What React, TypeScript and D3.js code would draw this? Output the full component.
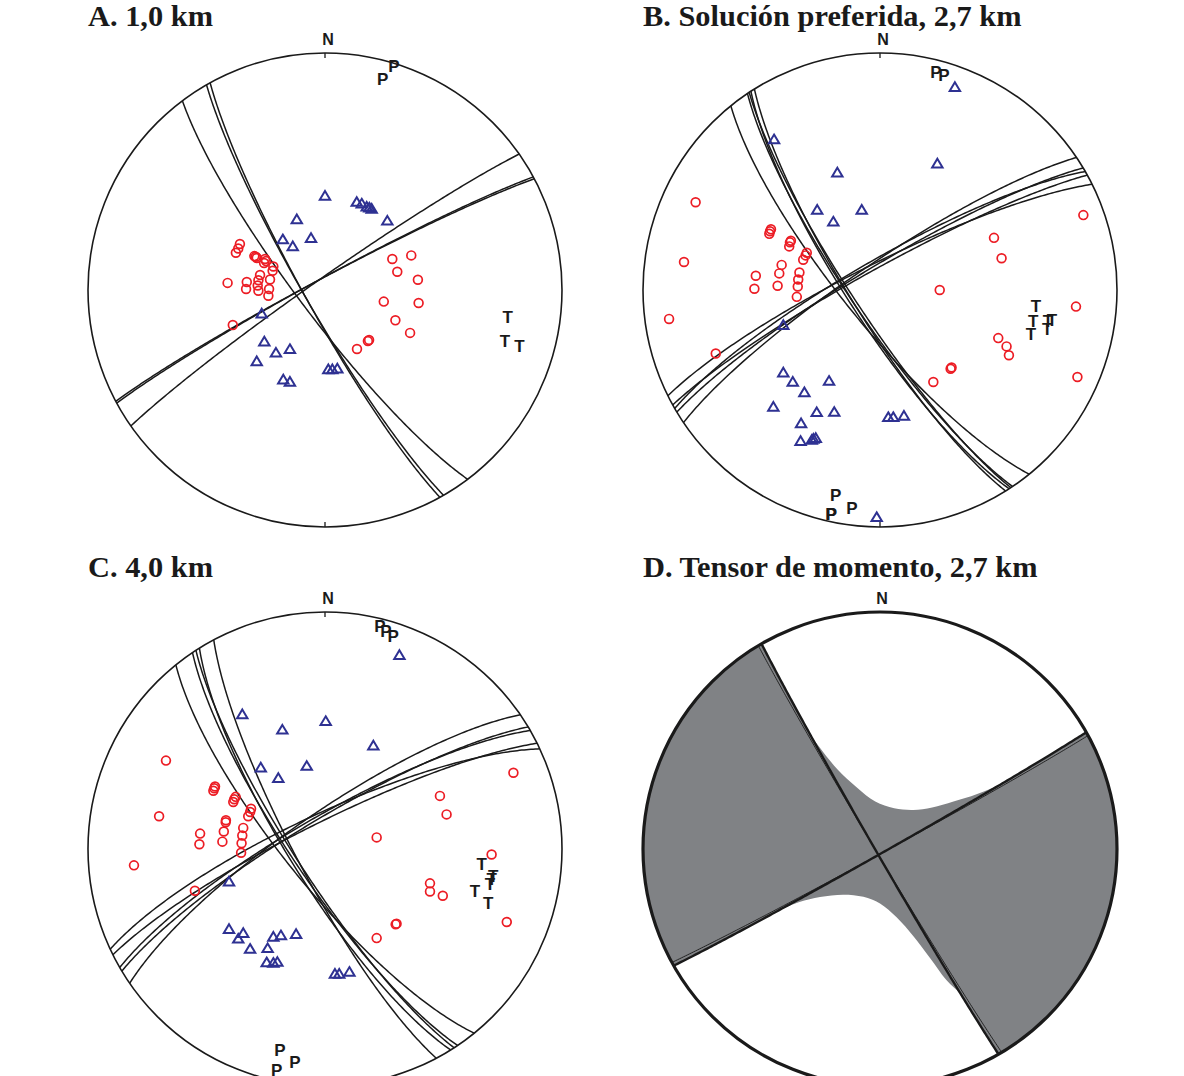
import React from "react";
import * as d3 from "d3";

// ---------- DATA (normalized stereonet coords: u = east, v = north, unit circle) ----------
const aCompressions: [number, number][] = [
  [-0.359, 0.194], [-0.366, 0.175], [-0.376, 0.157], [-0.298, 0.143], [-0.292, 0.14], [-0.288, 0.135],
  [-0.253, 0.131], [-0.249, 0.122], [-0.257, 0.114], [-0.218, 0.099], [-0.221, 0.081], [-0.274, 0.063],
  [-0.411, 0.03], [-0.33, 0.034], [-0.333, 0.004], [-0.281, 0.041], [-0.284, 0.019], [-0.281, -0.003],
  [-0.232, 0.044], [-0.236, 0.004], [-0.239, -0.024], [-0.389, -0.148],
  [0.284, 0.131], [0.364, 0.146], [0.305, 0.077], [0.392, 0.043], [0.248, -0.049], [0.395, -0.055],
  [0.297, -0.128], [0.359, -0.181], [0.186, -0.211], [0.181, -0.215], [0.135, -0.249],
];
const aDilatations: [number, number][] = [
  [0.0, 0.397], [0.134, 0.371], [0.155, 0.364], [0.176, 0.351], [0.187, 0.347], [0.197, 0.342],
  [0.263, 0.292], [-0.119, 0.298], [-0.178, 0.213], [-0.136, 0.184], [-0.059, 0.219],
  [-0.267, -0.1], [-0.256, -0.218], [-0.207, -0.265], [-0.148, -0.25], [-0.288, -0.301],
  [-0.176, -0.378], [-0.148, -0.388], [0.014, -0.335], [0.031, -0.335], [0.052, -0.332],
];
const aTAxes: [number, number][] = [[0.771, -0.112], [0.759, -0.214], [0.82, -0.235]];
const aPAxes: [number, number][] = [[0.243, 0.892], [0.291, 0.946]];
// nodal planes: [strike, dip] (right-hand rule, lower hemisphere)
const aPlanes: [number, number][] = [
  [143, 81], [150, 83], [151, 83],
  [242, 86], [241.5, 86], [235, 86],
];

const bCompressions: [number, number][] = [
  [-0.778, 0.37], [-0.827, 0.118], [-0.89, -0.122], [-0.693, -0.268],
  [-0.467, 0.237], [-0.464, 0.248], [-0.46, 0.256], [-0.383, 0.184], [-0.38, 0.201], [-0.376, 0.208],
  [-0.324, 0.128], [-0.314, 0.146], [-0.309, 0.157], [-0.415, 0.106], [-0.425, 0.07], [-0.524, 0.06],
  [-0.53, 0.005], [-0.432, 0.018], [-0.34, 0.074], [-0.345, 0.044], [-0.347, 0.015], [-0.351, -0.029],
  [0.858, 0.316], [0.481, 0.22], [0.513, 0.134], [0.252, 0.0], [0.827, -0.07], [0.499, -0.203],
  [0.534, -0.238], [0.544, -0.275], [0.302, -0.327], [0.298, -0.332], [0.225, -0.388], [0.833, -0.367],
];
const bDilatations: [number, number][] = [
  [0.316, 0.856], [-0.447, 0.635], [-0.18, 0.495], [0.242, 0.533], [-0.265, 0.338], [-0.077, 0.338],
  [-0.197, 0.288], [-0.408, -0.148], [-0.408, -0.349], [-0.368, -0.388], [-0.319, -0.432], [-0.215, -0.384],
  [-0.45, -0.493], [-0.267, -0.516], [-0.193, -0.515], [-0.333, -0.563], [-0.335, -0.638], [-0.288, -0.633],
  [-0.281, -0.628], [-0.271, -0.625], [0.035, -0.537], [0.056, -0.537], [0.101, -0.531], [-0.014, -0.959],
];
const bTAxes: [number, number][] = [
  [0.658, -0.068], [0.646, -0.131], [0.709, -0.131], [0.726, -0.127], [0.637, -0.186], [0.705, -0.165],
];
const bPAxes: [number, number][] = [
  [0.236, 0.92], [0.27, 0.907], [-0.187, -0.864], [-0.207, -0.944], [-0.205, -0.946], [-0.119, -0.919],
];
const bPlanes: [number, number][] = [
  [141, 78], [146, 80], [147, 79], [148, 80], [146.5, 81],
  [236, 81], [239, 82], [240, 80], [241, 83], [243.5, 81],
];

const cCompressions: [number, number][] = [
  [-0.671, 0.373], [-0.7, 0.138], [-0.806, -0.069], [-0.549, -0.176],
  [-0.471, 0.246], [-0.467, 0.256], [-0.464, 0.264], [-0.387, 0.198], [-0.383, 0.21], [-0.377, 0.22],
  [-0.324, 0.138], [-0.316, 0.156], [-0.312, 0.17], [-0.418, 0.121], [-0.419, 0.113], [-0.427, 0.074],
  [-0.433, 0.031], [-0.527, 0.065], [-0.53, 0.02], [-0.345, 0.089], [-0.349, 0.057], [-0.352, 0.024],
  [-0.354, -0.016],
  [0.795, 0.322], [0.485, 0.224], [0.513, 0.146], [0.218, 0.049], [0.703, -0.023], [0.443, -0.145],
  [0.443, -0.179], [0.497, -0.197], [0.302, -0.315], [0.298, -0.318], [0.218, -0.376], [0.767, -0.308],
];
const cDilatations: [number, number][] = [
  [0.314, 0.818], [-0.349, 0.568], [0.003, 0.539], [-0.18, 0.503], [0.204, 0.436], [-0.271, 0.343],
  [-0.077, 0.35], [-0.197, 0.299], [-0.405, -0.138], [-0.405, -0.338], [-0.366, -0.379], [-0.345, -0.355],
  [-0.316, -0.422], [-0.218, -0.371], [-0.186, -0.365], [-0.122, -0.359], [-0.242, -0.419],
  [-0.246, -0.479], [-0.218, -0.481], [-0.201, -0.477], [0.042, -0.527], [0.06, -0.527], [0.103, -0.519],
];
const cTAxes: [number, number][] = [
  [0.661, -0.062], [0.71, -0.116], [0.703, -0.126], [0.696, -0.148], [0.633, -0.176], [0.689, -0.226],
];
const cPAxes: [number, number][] = [
  [0.232, 0.939], [0.257, 0.918], [0.288, 0.897], [-0.19, -0.849], [-0.204, -0.934], [-0.127, -0.899],
];
const cPlanes: [number, number][] = [
  [141, 77], [146, 79], [147, 80], [148, 78], [152, 80],
  [235.5, 78], [239, 80], [240, 79], [243.5, 81], [245, 78],
];

// Moment tensor panel: main nodal planes and their faint companions
const dPlanes: [number, number][] = [[150, 88.5], [60.5, 88.5]];
const dCompanionPlanes: [number, number][] = [[149.1, 88.5], [61.4, 88.5]];
// dilatational (white) lobes: boundary from rim to rim
const dTopLobe: [number, number][] = [
  [-0.5, 0.866], [-0.436, 0.743], [-0.363, 0.607], [-0.312, 0.511], [-0.252, 0.425], [-0.18, 0.337],
  [-0.1, 0.262], [-0.02, 0.2], [0.06, 0.172], [0.14, 0.165], [0.22, 0.175], [0.31, 0.2],
  [0.41, 0.232], [0.5267, 0.2829], [0.7099, 0.3927], [0.8704, 0.4924],
];
const dBottomLobe: [number, number][] = [
  [-0.8704, -0.4924], [-0.7023, -0.4062], [-0.5138, -0.3058], [-0.42, -0.256], [-0.34, -0.224],
  [-0.253, -0.203], [-0.155, -0.193], [-0.07, -0.202], [0.0, -0.23], [0.07, -0.288], [0.141, -0.368],
  [0.211, -0.46], [0.28, -0.553], [0.3443, -0.6178], [0.4252, -0.7486], [0.5, -0.866],
];

const RED = "#ec1c24";
const BLUE = "#2e3192";
const GREY = "#808285";
const INK = "#1a1a1a";

function greatCircle(strike: number, dip: number, n = 180): [number, number][] {
  const f = (strike * Math.PI) / 180;
  const d = (dip * Math.PI) / 180;
  const s = [Math.sin(f), Math.cos(f)];
  const dv = [Math.cos(d) * Math.cos(f), -Math.cos(d) * Math.sin(f), Math.sin(d)];
  return d3.range(n + 1).map((i) => {
    const t = (Math.PI * i) / n;
    const E = Math.cos(t) * s[0] + Math.sin(t) * dv[0];
    const N = Math.cos(t) * s[1] + Math.sin(t) * dv[1];
    const D = Math.max(0, Math.sin(t) * dv[2]);
    const k = 1 / Math.sqrt(1 + D);
    return [E * k, N * k] as [number, number];
  });
}

type PanelProps = {
  title: string;
  titleY: number;
  cx: number;
  cy: number;
  R: number;
  compressions: [number, number][];
  dilatations: [number, number][];
  tAxes: [number, number][];
  pAxes: [number, number][];
  planes: [number, number][];
  bottomTick?: boolean;
};

const sans = "Liberation Sans, Arial, sans-serif";
const serif = "Liberation Serif, Times New Roman, serif";

function Panel(p: PanelProps) {
  const x = d3.scaleLinear().domain([-1, 1]).range([p.cx - p.R, p.cx + p.R]);
  const y = d3.scaleLinear().domain([-1, 1]).range([p.cy + p.R, p.cy - p.R]);
  const line = d3.line<[number, number]>().x((d) => x(d[0])).y((d) => y(d[1]));
  const tri = "M0,-4.9L5.2,3.8L-5.2,3.8Z";
  return (
    <g>
      <circle cx={p.cx} cy={p.cy} r={p.R} fill="white" stroke={INK} strokeWidth={1.6} />
      <line x1={p.cx} x2={p.cx} y1={p.cy - p.R} y2={p.cy - p.R + 5} stroke={INK} strokeWidth={1.3} />
      {p.bottomTick && (
        <line x1={p.cx} x2={p.cx} y1={p.cy + p.R} y2={p.cy + p.R - 5} stroke={INK} strokeWidth={1.3} />
      )}
      {p.planes.map((pl, i) => (
        <path key={"pl" + i} d={line(greatCircle(pl[0], pl[1])) || ""} fill="none" stroke={INK} strokeWidth={1.5} />
      ))}
      {p.compressions.map((c, i) => (
        <circle key={"c" + i} cx={x(c[0])} cy={y(c[1])} r={4.4} fill="none" stroke={RED} strokeWidth={1.7} />
      ))}
      {p.dilatations.map((c, i) => (
        <path key={"d" + i} d={tri} transform={`translate(${x(c[0])},${y(c[1])})`} fill="none" stroke={BLUE} strokeWidth={2} strokeLinejoin="miter" />
      ))}
      {p.tAxes.map((c, i) => (
        <text key={"t" + i} x={x(c[0])} y={y(c[1]) + 6} textAnchor="middle" fontFamily={sans} fontWeight="bold" fontSize={17} fill={INK}>T</text>
      ))}
      {p.pAxes.map((c, i) => (
        <text key={"p" + i} x={x(c[0])} y={y(c[1]) + 6} textAnchor="middle" fontFamily={sans} fontWeight="bold" fontSize={17} fill={INK}>P</text>
      ))}
      <text x={p.cx + 3} y={p.cy - p.R - 8} textAnchor="middle" fontFamily={sans} fontWeight="bold" fontSize={16} fill={INK}>N</text>
      <text x={p.cx - p.R} y={p.titleY} fontFamily={serif} fontWeight="bold" fontSize={30.4} fill={INK}>{p.title}</text>
    </g>
  );
}

function TensorPanel({ cx, cy, R, titleY }: { cx: number; cy: number; R: number; titleY: number }) {
  const x = d3.scaleLinear().domain([-1, 1]).range([cx - R, cx + R]);
  const y = d3.scaleLinear().domain([-1, 1]).range([cy + R, cy - R]);
  const line = d3.line<[number, number]>().x((d) => x(d[0])).y((d) => y(d[1]));
  const curve = d3.line<[number, number]>().x((d) => x(d[0])).y((d) => y(d[1])).curve(d3.curveCatmullRom);
  const lobe = (pts: [number, number][], sweep: number) => {
    const first = pts[0];
    const ang = Math.atan2(first[1], first[0]);
    const ex = cx + R * Math.cos(ang);
    const ey = cy - R * Math.sin(ang);
    return `${curve(pts)} A ${R} ${R} 0 0 ${sweep} ${ex} ${ey} Z`;
  };
  return (
    <g>
      <circle cx={cx} cy={cy} r={R} fill={GREY} />
      <path d={lobe(dTopLobe, 0)} fill="white" />
      <path d={lobe(dBottomLobe, 1)} fill="white" />
      {dCompanionPlanes.map((pl, i) => (
        <path key={"c" + i} d={line(greatCircle(pl[0], pl[1])) || ""} fill="none" stroke={INK} strokeWidth={0.9} />
      ))}
      {dPlanes.map((pl, i) => (
        <path key={i} d={line(greatCircle(pl[0], pl[1])) || ""} fill="none" stroke={INK} strokeWidth={2.4} />
      ))}
      <circle cx={cx} cy={cy} r={R} fill="none" stroke={INK} strokeWidth={3.2} />
      <text x={cx + 2} y={cy - R - 8} textAnchor="middle" fontFamily={sans} fontWeight="bold" fontSize={16} fill={INK}>N</text>
      <text x={cx - R} y={titleY} fontFamily={serif} fontWeight="bold" fontSize={30.4} fill={INK}>D. Tensor de momento, 2,7 km</text>
    </g>
  );
}

export default function App() {
  return (
    <svg width={1184} height={1076} style={{ position: "absolute", left: 0, top: 0, background: "white" }}>
      <rect width={1184} height={1076} fill="white" />
      <Panel title="A. 1,0 km" titleY={26} cx={325} cy={290} R={237} compressions={aCompressions} dilatations={aDilatations} tAxes={aTAxes} pAxes={aPAxes} planes={aPlanes} bottomTick />
      <Panel title="B. Solución preferida, 2,7 km" titleY={26} cx={880} cy={290} R={237} compressions={bCompressions} dilatations={bDilatations} tAxes={bTAxes} pAxes={bPAxes} planes={bPlanes} bottomTick />
      <Panel title="C. 4,0 km" titleY={577} cx={325} cy={849} R={237} compressions={cCompressions} dilatations={cDilatations} tAxes={cTAxes} pAxes={cPAxes} planes={cPlanes} />
      <TensorPanel cx={880} cy={849} R={237} titleY={577} />
    </svg>
  );
}
